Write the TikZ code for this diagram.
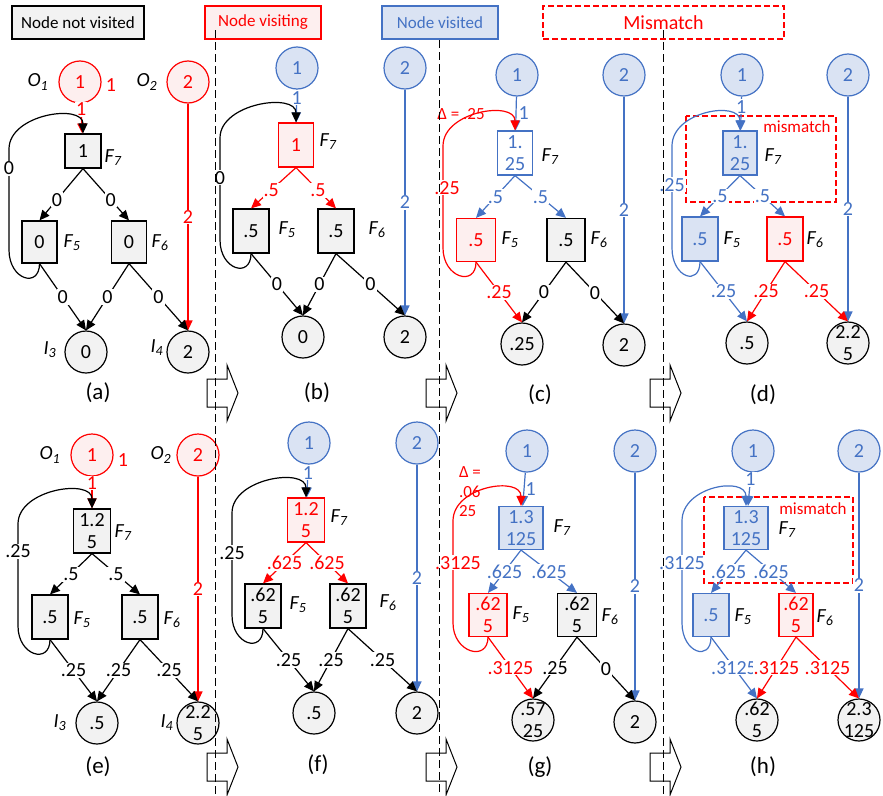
\documentclass[tikz,border=0pt]{standalone}
\usepackage{fontspec}
\setmainfont{Carlito}
\usetikzlibrary{arrows.meta}

\definecolor{nvfill}{HTML}{F2F2F2}
\definecolor{vifill}{HTML}{FDEFEF}
\definecolor{vdblue}{HTML}{4472C4}
\definecolor{vdfill}{HTML}{DAE3F3}

\newcommand\vfont{\fontsize{20}{22}\selectfont}
\newcommand\sfont{\fontsize{17}{19.5}\selectfont}
\newcommand\pfont{\fontsize{23}{25}\selectfont}
\newcommand\nm[2]{\textit{#1\textsubscript{#2}}}

\begin{document}
\begin{tikzpicture}[x=1pt, y=-1pt,
		every node/.style={font=\vfont},
		nv/.style={draw=black, fill=nvfill, text=black},
		vi/.style={draw=red, fill=vifill, text=red},
		vd/.style={draw=vdblue, fill=vdfill, text=vdblue},
		fbox/.style={rectangle, line width=1.2pt, inner sep=0pt, minimum width=36pt, minimum height=43pt, align=center},
		onode/.style={circle, line width=1.2pt, inner sep=0pt, minimum size=42pt},
		ilab/.style={align=center, inner sep=0pt, text=black},
		ival/.style={onode, nv, label={[ilab]center:#1}},
		ed/.style={-{Triangle[length=10pt,width=9pt]}, line width=1.2pt},
		elab/.style={fill=white, inner sep=1pt},
		plab/.style={font=\pfont},
		lgd/.style={rectangle, line width=1.3pt, inner sep=0pt, minimum height=33pt, font=\sfont},
		mmbox/.style={draw=red, line width=1.2pt, dash pattern=on 6pt off 3pt},
		blk/.style={draw=black, fill=white, line width=1pt},
		sep/.style={draw=black, line width=1pt, dash pattern=on 8pt off 4pt}]

	\useasboundingbox (0,0) rectangle (883,795);

	% legend
	\node[lgd, nv, minimum width=132pt] (lnv) at (78,22.5) {Node not visited};
	\node[lgd, vi, minimum width=116pt] (lvi) at (263,22.5) {Node visiting};
	\node[lgd, vd, minimum width=116pt] (lvd) at (440,22.5) {Node visited};
	\node[lgd, mmbox, minimum width=241pt, text=red, font=\fontsize{20}{22}\selectfont] (lmm) at (663.5,22.5) {Mismatch};

	% step arrows
	\draw[blk] (207,379) -- (227,379) -- (227,365) -- (238,393) -- (227,421) -- (227,407) -- (207,407) -- cycle;
	\draw[blk] (426,379) -- (446,379) -- (446,365) -- (457,393) -- (446,421) -- (446,407) -- (426,407) -- cycle;
	\draw[blk] (650,379) -- (670,379) -- (670,365) -- (681,393) -- (670,421) -- (670,407) -- (650,407) -- cycle;
	\draw[blk] (207,753) -- (227,753) -- (227,739) -- (238,767) -- (227,795) -- (227,781) -- (207,781) -- cycle;
	\draw[blk] (426,753) -- (446,753) -- (446,739) -- (457,767) -- (446,795) -- (446,781) -- (426,781) -- cycle;
	\draw[blk] (650,753) -- (670,753) -- (670,739) -- (681,767) -- (670,795) -- (670,781) -- (650,781) -- cycle;

	% (a)
	\node[onode, vi] (a1) at (80,82) {1};
	\node[onode, vi] (a2) at (188,82) {2};
	\node[fbox, nv, minimum height=34pt] (a7) at (83,151) {1};
	\node[fbox, nv, minimum width=35pt, minimum height=42pt] (a5) at (39.5,242) {0};
	\node[fbox, nv, minimum width=35pt, minimum height=42pt] (a6) at (129,242) {0};
	\node[ival=0] (a3) at (86,352) {};
	\node[ival=2] (a4) at (188,352) {};
	\node (a1n) at (38,82) {\nm{O}{1}};
	\node (a2n) at (147,82) {\nm{O}{2}};
	\node (a7n) at (113,158) {\nm{F}{7}};
	\node (a5n) at (72,243) {\nm{F}{5}};
	\node (a6n) at (160,243) {\nm{F}{6}};
	\node (a3n) at (50,350) {\nm{I}{3}};
	\node (a4n) at (157,348) {\nm{I}{4}};
	\node[red] (a1w) at (111,85) {1};
	\node[plab] (al) at (98,393) {(a)};

	\draw[ed, red] (a1) -- node[elab, pos=0.2] {1} (a7);
	\draw[ed, red] (a2) -- node[elab] {2} (a4);
	\draw[ed] (a7.south) -- node[elab, pos=0.6] {0} (a5.north);
	\draw[ed] (a7.south) -- node[elab, pos=0.6] {0} (a6.north);
	\draw[ed] (a5.south) -- node[elab] {0} (a3.north);
	\draw[ed] (a6.south) -- node[elab] {0} (a3.north);
	\draw[ed] (a6.south) -- node[elab] {0} (a4.north);
	\draw[ed] (a5.south) .. controls +(0,25) and +(0,30) .. (9,250) -- node[elab, pos=0.81] {0} (9,149) .. controls +(0,-35) and +(0,-30) .. (a7.north);

	% (b)
	\node[onode, vd] (b1) at (297,68) {1};
	\node[onode, vd] (b2) at (405,68) {2};
	\node[fbox, vi, minimum width=35pt, minimum height=44pt] (b7) at (296,145) {1};
	\node[fbox, nv, minimum height=44pt] (b5) at (251,231) {.5};
	\node[fbox, nv, minimum height=44pt] (b6) at (336,231) {.5};
	\node[ival=0] (b3) at (303,337) {};
	\node[ival=2] (b4) at (405,337) {};
	\node (b7n) at (328,142) {\nm{F}{7}};
	\node (b5n) at (287,230) {\nm{F}{5}};
	\node (b6n) at (377,230) {\nm{F}{6}};
	\node[plab] (bl) at (317,393) {(b)};

	\draw[ed, vdblue] (b1) -- node[elab, pos=0.25] {1} (b7);
	\draw[ed, vdblue] (b2) -- node[elab] {2} (b4);
	\draw[ed, red] (b7.south) -- node[elab, pos=0.55] {.5} (b5.north);
	\draw[ed, red] (b7.south) -- node[elab, pos=0.55] {.5} (b6.north);
	\draw[ed] (b5.south) -- node[elab] {0} (b3.north);
	\draw[ed] (b6.south) -- node[elab] {0} (b3.north);
	\draw[ed] (b6.south) -- node[elab] {0} (b4.north);
	\draw[ed] (b5.south) .. controls +(0,25) and +(0,30) .. (220,240) -- node[elab, pos=0.61] {0} (220,138) .. controls +(0,-35) and +(0,-30) .. (b7.north);

	% (c)
	\node[onode, vd] (c1) at (517,75) {1};
	\node[onode, vd] (c2) at (624,75) {2};
	\node[fbox, vd, fill=white, minimum width=35pt, minimum height=44pt] (c7) at (515,153) {1.\\25};
	\node[fbox, vi, minimum width=39pt] (c5) at (476,240) {.5};
	\node[fbox, nv, minimum width=38pt] (c6) at (566,240) {.5};
	\node[ival=.25] (c3) at (522,344) {};
	\node[ival=2] (c4) at (624,345) {};
	\node (c7n) at (550,157) {\nm{F}{7}};
	\node (c5n) at (510,240) {\nm{F}{5}};
	\node (c6n) at (599,240) {\nm{F}{6}};
	\node[red, font=\sfont] (cd) at (461,114) {Δ = .25};
	\node[plab] (cl) at (540,395) {(c)};

	\draw[ed, vdblue] (c1) -- node[right, inner sep=2pt] {1} (c7);
	\draw[ed, vdblue] (c2) -- node[elab] {2} (c4);
	\draw[ed, vdblue] (c7.south) -- node[elab] {.5} (c5.north);
	\draw[ed, vdblue] (c7.south) -- node[elab] {.5} (c6.north);
	\draw[ed, red] (c5.south) -- node[elab] {.25} (c3.north);
	\draw[ed] (c6.south) -- node[elab] {0} (c3.north);
	\draw[ed] (c6.south) -- node[elab] {0} (c4.north);
	\draw[ed, red] (c5.south) .. controls +(0,25) and +(0,30) .. (443,248) -- node[elab, pos=0.59, xshift=4pt] {.25} (443,146) .. controls +(0,-35) and +(0,-30) .. (c7.north);

	% (d)
	\draw[mmbox] (686,116) rectangle (836,202);
	\node[red, font=\sfont] (dmm) at (797,127) {mismatch};
	\node[onode, vd] (d1) at (742,75) {1};
	\node[onode, vd] (d2) at (848,75) {2};
	\node[fbox, vd, minimum width=34pt, minimum height=44pt] (d7) at (740,153) {1.\\25};
	\node[fbox, vd, minimum height=44pt] (d5) at (700,239) {.5};
	\node[fbox, vi, minimum height=44pt] (d6) at (785,239) {.5};
	\node[ival=.5] (d3) at (747,343) {};
	\node[ival={2.2\\5}] (d4) at (848,343) {};
	\node (d7n) at (773,157) {\nm{F}{7}};
	\node (d5n) at (732,240) {\nm{F}{5}};
	\node (d6n) at (815,240) {\nm{F}{6}};
	\node[plab] (dl) at (763,395) {(d)};

	\draw[ed, vdblue] (d1) -- node[elab, pos=0.3] {1} (d7);
	\draw[ed, vdblue] (d2) -- node[elab] {2} (d4);
	\draw[ed, vdblue] (d7.south) -- node[elab] {.5} (d5.north);
	\draw[ed, vdblue] (d7.south) -- node[elab] {.5} (d6.north);
	\draw[ed, vdblue] (d5.south) -- node[elab] {.25} (d3.north);
	\draw[ed, red] (d6.south) -- node[elab] {.25} (d3.north);
	\draw[ed, red] (d6.south) -- node[elab] {.25} (d4.north);
	\draw[ed, vdblue] (d5.south) .. controls +(0,25) and +(0,30) .. (672,248) -- node[elab, pos=0.62] {.25} (672,146) .. controls +(0,-35) and +(0,-30) .. (d7.north);

	% (e)
	\node[onode, vi] (e1) at (92,455) {1};
	\node[onode, vi] (e2) at (198,455) {2};
	\node[fbox, nv, minimum width=37pt, minimum height=44pt] (e7) at (92,531) {1.2\\5};
	\node[fbox, nv, minimum height=44pt] (e5) at (50,617) {.5};
	\node[fbox, nv, minimum height=44pt] (e6) at (140,617) {.5};
	\node[ival=.5] (e3) at (97,723) {};
	\node[ival={2.2\\5}] (e4) at (198,723) {};
	\node (e1n) at (50,455) {\nm{O}{1}};
	\node (e2n) at (161,455) {\nm{O}{2}};
	\node (e7n) at (123,533) {\nm{F}{7}};
	\node (e5n) at (82,620) {\nm{F}{5}};
	\node (e6n) at (172,620) {\nm{F}{6}};
	\node (e3n) at (60,723) {\nm{I}{3}};
	\node (e4n) at (167,723) {\nm{I}{4}};
	\node[red] (e1w) at (123,460) {1};
	\node[plab] (el) at (98,767) {(e)};

	\draw[ed, red] (e1) -- node[elab, pos=0.2] {1} (e7);
	\draw[ed, red] (e2) -- node[elab] {2} (e4);
	\draw[ed] (e7.south) -- node[elab] {.5} (e5.north);
	\draw[ed] (e7.south) -- node[elab] {.5} (e6.north);
	\draw[ed] (e5.south) -- node[elab] {.25} (e3.north);
	\draw[ed] (e6.south) -- node[elab] {.25} (e3.north);
	\draw[ed] (e6.south) -- node[elab] {.25} (e4.north);
	\draw[ed] (e5.south) .. controls +(0,25) and +(0,30) .. (18,626) -- node[elab, pos=0.73] {.25} (18,524) .. controls +(0,-35) and +(0,-30) .. (e7.north);

	% (f)
	\node[onode, vd] (f1) at (309,443) {1};
	\node[onode, vd] (f2) at (417,443) {2};
	\node[fbox, vi, minimum width=37pt, minimum height=44pt] (f7) at (306,520) {1.2\\5};
	\node[fbox, nv, minimum height=44pt] (f5) at (263,606) {.62\\5};
	\node[fbox, nv, minimum height=44pt] (f6) at (348,606) {.62\\5};
	\node[ival=.5] (f3) at (314,713) {};
	\node[ival=2] (f4) at (417,713) {};
	\node (f7n) at (339,518) {\nm{F}{7}};
	\node (f5n) at (298,605) {\nm{F}{5}};
	\node (f6n) at (388,603) {\nm{F}{6}};
	\node[plab] (fl) at (318,765) {(f)};

	\draw[ed, vdblue] (f1) -- node[elab, pos=0.25] {1} (f7);
	\draw[ed, vdblue] (f2) -- node[elab] {2} (f4);
	\draw[ed, red] (f7.south) -- node[elab] {.625} (f5.north);
	\draw[ed, red] (f7.south) -- node[elab] {.625} (f6.north);
	\draw[ed] (f5.south) -- node[elab] {.25} (f3.north);
	\draw[ed] (f6.south) -- node[elab] {.25} (f3.north);
	\draw[ed] (f6.south) -- node[elab] {.25} (f4.north);
	\draw[ed] (f5.south) .. controls +(0,25) and +(0,30) .. (232,615) -- node[elab, pos=0.61] {.25} (232,513) .. controls +(0,-35) and +(0,-30) .. (f7.north);

	% (g)
	\node[onode, vd] (g1) at (527,451) {1};
	\node[onode, vd] (g2) at (635,451) {2};
	\node[fbox, vd, minimum width=44pt] (g7) at (521,528) {1.3\\125};
	\node[fbox, vi, minimum width=38pt] (g5) at (488,615) {.62\\5};
	\node[fbox, nv, minimum width=39pt] (g6) at (577,615) {.62\\5};
	\node[ival={.57\\25}] (g3) at (533,720) {};
	\node[ival=2] (g4) at (635,722) {};
	\node (g7n) at (562,528) {\nm{F}{7}};
	\node (g5n) at (521,615) {\nm{F}{5}};
	\node (g6n) at (610,617) {\nm{F}{6}};
	\node[red, font=\sfont, align=left] (gd) at (470,492) {Δ =\\.06\\25};
	\node[plab] (gl) at (540,767) {(g)};

	\draw[ed, vdblue] (g1) -- node[right, inner sep=1pt] {1} (g7);
	\draw[ed, vdblue] (g2) -- node[elab] {2} (g4);
	\draw[ed, vdblue] (g7.south) -- node[elab] {.625} (g5.north);
	\draw[ed, vdblue] (g7.south) -- node[elab] {.625} (g6.north);
	\draw[ed, red] (g5.south) -- node[elab] {.3125} (g3.north);
	\draw[ed] (g6.south) -- node[elab] {.25} (g3.north);
	\draw[ed] (g6.south) -- node[elab] {0} (g4.north);
	\draw[ed, red] (g5.south) .. controls +(0,25) and +(0,30) .. (453,623) -- node[elab, pos=0.59, xshift=5pt] {.3125} (453,521) .. controls +(0,-35) and +(0,-30) .. (g7.north);

	% (h)
	\draw[mmbox] (704,497) rectangle (853,583);
	\node[red, font=\sfont] (hmm) at (813,509) {mismatch};
	\node[onode, vd] (h1) at (753,451) {1};
	\node[onode, vd] (h2) at (859,451) {2};
	\node[fbox, vd, minimum width=44pt] (h7) at (746,528) {1.3\\125};
	\node[fbox, vd] (h5) at (711,615) {.5};
	\node[fbox, vi, minimum width=34pt] (h6) at (796,615) {.62\\5};
	\node[ival={.62\\5}] (h3) at (757,720) {};
	\node[ival={2.3\\125}] (h4) at (859,720) {};
	\node (h7n) at (787,530) {\nm{F}{7}};
	\node (h5n) at (743,617) {\nm{F}{5}};
	\node (h6n) at (825,618) {\nm{F}{6}};
	\node[plab] (hl) at (763,767) {(h)};

	\draw[ed, vdblue] (h1) -- node[elab, pos=0.2] {1} (h7);
	\draw[ed, vdblue] (h2) -- node[elab] {2} (h4);
	\draw[ed, vdblue] (h7.south) -- node[elab] {.625} (h5.north);
	\draw[ed, vdblue] (h7.south) -- node[elab] {.625} (h6.north);
	\draw[ed, vdblue] (h5.south) -- node[elab] {.3125} (h3.north);
	\draw[ed, red] (h6.south) -- node[elab] {.3125} (h3.north);
	\draw[ed, red] (h6.south) -- node[elab] {.3125} (h4.north);
	\draw[ed, vdblue] (h5.south) .. controls +(0,25) and +(0,30) .. (682,623) -- node[elab, pos=0.59] {.3125} (682,521) .. controls +(0,-35) and +(0,-30) .. (h7.north);

	% separators
	\draw[sep] (215,30) -- (215,795);
	\draw[sep] (439,40) -- (439,795);
	\draw[sep] (663,30) -- (663,795);
\end{tikzpicture}
\end{document}
